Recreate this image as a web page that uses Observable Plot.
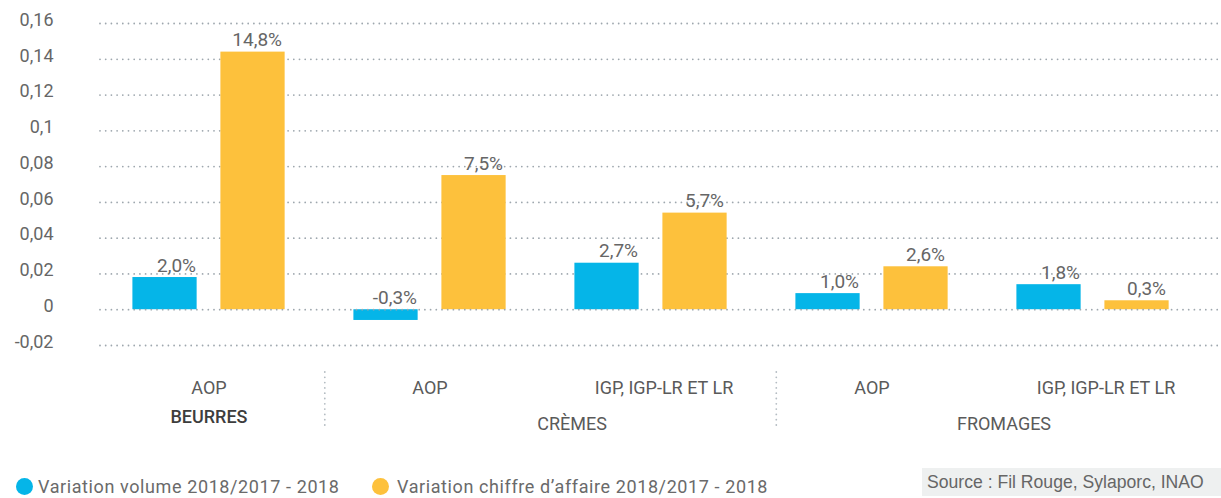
<!DOCTYPE html>
<html><head><meta charset="utf-8">
<script src="https://cdn.jsdelivr.net/npm/d3@7"></script>
<script src="https://cdn.jsdelivr.net/npm/@observablehq/plot@0.6"></script>
<style>
body{margin:0;background:#fff;font-family:Roboto, sans-serif;}
#wrap{position:relative;width:1221px;height:498px;overflow:hidden;}
#chart{position:absolute;left:0;top:0;}
.leg{position:absolute;top:476px;height:22px;line-height:22px;font-size:18px;letter-spacing:0.6px;color:#6a6a6a;white-space:nowrap;}
.dot{position:absolute;top:478px;width:17px;height:17px;border-radius:50%;}
#source{position:absolute;left:922px;top:468px;width:299px;height:28px;line-height:28px;background:#eef0f0;color:#666;font-family:"Liberation Sans",Arial,sans-serif;font-size:17.6px;padding-left:5px;box-sizing:border-box;white-space:nowrap;}
</style></head><body>
<div id="wrap"><div id="chart"></div>
<div id="legend"></div>
<div id="source">Source : Fil Rouge, Sylaporc, INAO</div>
</div>
<script>
const categories = ["BEURRES|AOP","CRÈMES|AOP","CRÈMES|IGP","FROMAGES|AOP","FROMAGES|IGP"];
const subLabels = ["AOP","AOP","IGP, IGP-LR ET LR","AOP","IGP, IGP-LR ET LR"];
const groupNames = ["BEURRES","CRÈMES","FROMAGES"];
const groupFirst = ["BEURRES|AOP","CRÈMES|AOP","FROMAGES|AOP"];
const seriesNames = ["Variation volume 2018/2017 - 2018","Variation chiffre d’affaire 2018/2017 - 2018"];
const volume = [0.018, -0.006, 0.026, 0.009, 0.014];
const chiffre = [0.144, 0.075, 0.054, 0.024, 0.005];
const volumeLabels = ["2,0%","-0,3%","2,7%","1,0%","1,8%"];
const chiffreLabels = ["14,8%","7,5%","5,7%","2,6%","0,3%"];
const yTicks = [-0.02, 0, 0.02, 0.04, 0.06, 0.08, 0.1, 0.12, 0.14, 0.16];
const colors = ["#05b5e8", "#fdc13c"];

const rows = categories.map((c, i) => ({cat: c, vol: volume[i], ca: chiffre[i], vl: volumeLabels[i], cl: chiffreLabels[i]}));
const groups = groupNames.map((g, i) => ({name: g, first: groupFirst[i]}));
const xRange = [95.6, 1204.4];
const step = (xRange[1] - xRange[0]) / categories.length;
const fmt = d => String(+d.toFixed(2)).replace(".", ",");
const grid = {stroke: "#9ea7ae", strokeWidth: 1.8, strokeDasharray: "0 5.7", strokeLinecap: "round"};
const txt = {fontSize: 19, fill: "#666"};
const aopCats = categories.filter((c, i) => subLabels[i] === "AOP");
const igpCats = categories.filter((c, i) => subLabels[i] !== "AOP");
const xAxisOpts = {tickSize: 0, tickPadding: 16, fontSize: 18, fill: "#5a5a5a", tickFormat: d => subLabels[categories.indexOf(d)]};
const sep = {insetTop: 352, insetBottom: -63, stroke: "#b4bcc2", strokeWidth: 1.8, strokeDasharray: "0 5.3", strokeLinecap: "round"};

const chart = Plot.plot({
  width: 1221, height: 465,
  marginLeft: 100, marginRight: 0, marginTop: 20, marginBottom: 100,
  style: {fontFamily: "Roboto, sans-serif", background: "transparent"},
  x: {domain: categories, range: xRange, padding: 0, axis: null},
  y: {domain: [-0.02, 0.16], range: [345, 23], axis: null},
  marks: [
    Plot.ruleY(yTicks.filter(d => d !== 0), grid),
    Plot.barY(rows, {x: "cat", y: "vol", fill: colors[0], insetLeft: 34.4, insetRight: step - 99.4}),
    Plot.barY(rows, {x: "cat", y: "ca", fill: colors[1], insetLeft: 122.4, insetRight: step - 187.4}),
    Plot.ruleY([0], grid),
    Plot.text(rows, {x: "cat", y: d => Math.max(d.vol, 0), text: "vl", textAnchor: "end", lineAnchor: "bottom", dx: -13, dy: -6, ...txt}),
    Plot.text(rows, {x: "cat", y: d => Math.max(d.ca, 0), text: "cl", textAnchor: "end", lineAnchor: "bottom", dx: 73, dy: -6, ...txt}),
    Plot.axisY(yTicks, {tickSize: 0, tickPadding: 47, dy: -3.5, fontSize: 18, fill: "#666", tickFormat: fmt}),
    Plot.axisX(aopCats, xAxisOpts),
    Plot.axisX(igpCats, {...xAxisOpts, dx: 13}),
    Plot.text(groups.slice(0, 1), {x: "first", text: "name", frameAnchor: "bottom", lineAnchor: "middle", dy: 52, fontSize: 18, fontWeight: 500, fill: "#3d3d3d"}),
    Plot.text(groups.slice(1, 2), {x: "first", text: "name", frameAnchor: "bottom", lineAnchor: "middle", dy: 59, dx: 142, fontSize: 18, fill: "#5a5a5a"}),
    Plot.text(groups.slice(2, 3), {x: "first", text: "name", frameAnchor: "bottom", lineAnchor: "middle", dy: 59, dx: 132, fontSize: 18, fill: "#5a5a5a"}),
    Plot.ruleX([categories[1]], {dx: -105.2, ...sep}),
    Plot.ruleX([categories[3]], {dx: -95.7, ...sep})
  ]
});
document.getElementById("chart").append(chart);

const legend = document.getElementById("legend");
const legPos = [{dot: 16, text: 38}, {dot: 372, text: 397}];
seriesNames.forEach((s, i) => {
  const d = document.createElement("div");
  d.className = "dot"; d.style.left = legPos[i].dot + "px"; d.style.background = colors[i];
  legend.append(d);
  const t = document.createElement("div");
  t.className = "leg"; t.style.left = legPos[i].text + "px"; t.textContent = s;
  legend.append(t);
});
</script>
</body></html>
